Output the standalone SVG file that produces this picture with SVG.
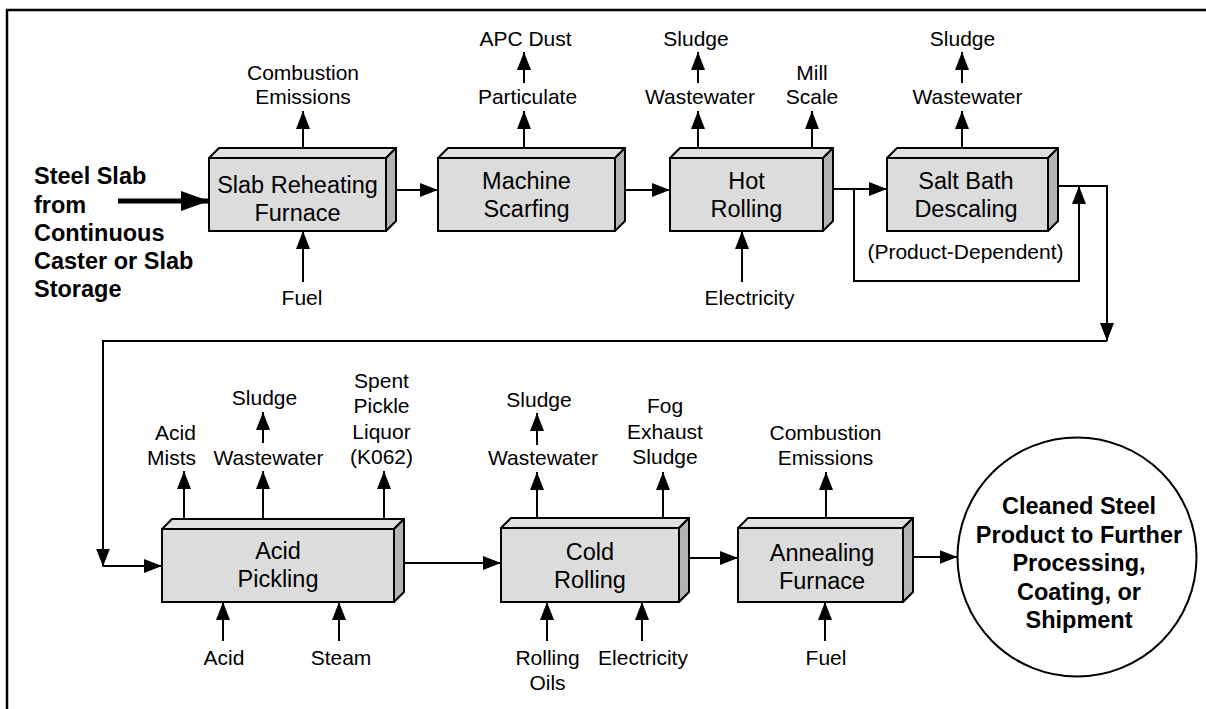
<svg xmlns="http://www.w3.org/2000/svg" width="1206" height="709" viewBox="0 0 1206 709">
<defs>
<marker id="ah" markerUnits="userSpaceOnUse" markerWidth="18" markerHeight="14" refX="18" refY="7" orient="auto">
<path d="M0,0 L18,7 L0,14 z" fill="#000"/>
</marker>
<marker id="bigah" markerUnits="userSpaceOnUse" markerWidth="28" markerHeight="20" refX="28" refY="10" orient="auto">
<path d="M0,0 L28,10 L0,20 z" fill="#000"/>
</marker>
<style>
.front{fill:#dcdcdc;stroke:#000;stroke-width:2}
.top{fill:#e0e0e0;stroke:#000;stroke-width:2;stroke-linejoin:round}
.side{fill:#b3b3b3;stroke:#000;stroke-width:2;stroke-linejoin:round}
.box{font-family:"Liberation Sans",Arial,sans-serif;font-size:23.5px;text-anchor:middle;fill:#000}
.lbl{font-family:"Liberation Sans",Arial,sans-serif;font-size:21px;text-anchor:middle;fill:#000}
.bold{font-family:"Liberation Sans",Arial,sans-serif;font-size:23.5px;font-weight:bold;fill:#000}
.c{fill:none;stroke:#000;stroke-width:2;marker-end:url(#ah)}
.l{fill:none;stroke:#000;stroke-width:2}
</style>
</defs>
<rect x="0" y="0" width="1206" height="709" fill="#fff"/>
<path d="M7,709 L7,10 L1206,10" fill="none" stroke="#000" stroke-width="2.5"/>

<g id="input">
<text class="bold" x="34" y="184.3">Steel Slab</text>
<text class="bold" x="34" y="212.5">from</text>
<text class="bold" x="34" y="240.7">Continuous</text>
<text class="bold" x="34" y="268.9">Caster or Slab</text>
<text class="bold" x="34" y="297.1">Storage</text>
</g>

<g id="slab-reheating">
<polygon class="top" points="209,158 219,148 396,148 386,158"/>
<polygon class="side" points="386,158 396,148 396,221 386,231"/>
<rect class="front" x="209" y="158" width="177" height="73"/>
<text class="box" x="297.5" y="192.5">Slab Reheating</text>
<text class="box" x="297.5" y="220.5">Furnace</text>
<text class="lbl" x="303" y="80">Combustion</text>
<text class="lbl" x="303" y="104">Emissions</text>
<text class="lbl" x="302" y="305">Fuel</text>
</g>

<g id="machine-scarfing">
<polygon class="top" points="438,158 448,148 625,148 615,158"/>
<polygon class="side" points="615,158 625,148 625,221 615,231"/>
<rect class="front" x="438" y="158" width="177" height="73"/>
<text class="box" x="526.5" y="188.5">Machine</text>
<text class="box" x="526.5" y="216.5">Scarfing</text>
<text class="lbl" x="525.5" y="45.5">APC Dust</text>
<text class="lbl" x="527.5" y="104">Particulate</text>
</g>

<g id="hot-rolling">
<polygon class="top" points="670,158 680,148 833,148 823,158"/>
<polygon class="side" points="823,158 833,148 833,221 823,231"/>
<rect class="front" x="670" y="158" width="153" height="73"/>
<text class="box" x="746.5" y="188.5">Hot</text>
<text class="box" x="746.5" y="216.5">Rolling</text>
<text class="lbl" x="696" y="45.5">Sludge</text>
<text class="lbl" x="700" y="104">Wastewater</text>
<text class="lbl" x="812" y="80">Mill</text>
<text class="lbl" x="812" y="104">Scale</text>
<text class="lbl" x="749.5" y="305">Electricity</text>
</g>

<g id="salt-bath-descaling">
<polygon class="top" points="887,158 897,148 1058,148 1048,158"/>
<polygon class="side" points="1048,158 1058,148 1058,221 1048,231"/>
<rect class="front" x="887" y="158" width="161" height="73"/>
<text class="box" x="966" y="188.5">Salt Bath</text>
<text class="box" x="966" y="216.5">Descaling</text>
<text class="lbl" x="962.5" y="45.5">Sludge</text>
<text class="lbl" x="967.5" y="104">Wastewater</text>
<text class="lbl" x="965.5" y="258.5">(Product-Dependent)</text>
</g>

<g id="acid-pickling">
<polygon class="top" points="162,529 172,519 404,519 394,529"/>
<polygon class="side" points="394,529 404,519 404,592 394,602"/>
<rect class="front" x="162" y="529" width="232" height="73"/>
<text class="box" x="278" y="558.5">Acid</text>
<text class="box" x="278" y="586.5">Pickling</text>
<text class="lbl" x="175.5" y="439.5">Acid</text>
<text class="lbl" x="171.5" y="465">Mists</text>
<text class="lbl" x="264.5" y="405">Sludge</text>
<text class="lbl" x="268.5" y="465">Wastewater</text>
<text class="lbl" x="381.5" y="387.5">Spent</text>
<text class="lbl" x="381.5" y="413">Pickle</text>
<text class="lbl" x="381.5" y="438.5">Liquor</text>
<text class="lbl" x="381.5" y="464">(K062)</text>
<text class="lbl" x="224" y="665">Acid</text>
<text class="lbl" x="341" y="665">Steam</text>
</g>

<g id="cold-rolling">
<polygon class="top" points="501,528 511,518 689,518 679,528"/>
<polygon class="side" points="679,528 689,518 689,592 679,602"/>
<rect class="front" x="501" y="528" width="178" height="74"/>
<text class="box" x="590" y="559.5">Cold</text>
<text class="box" x="590" y="588">Rolling</text>
<text class="lbl" x="539" y="406.5">Sludge</text>
<text class="lbl" x="543" y="465">Wastewater</text>
<text class="lbl" x="665" y="413">Fog</text>
<text class="lbl" x="665" y="438.5">Exhaust</text>
<text class="lbl" x="665" y="464">Sludge</text>
<text class="lbl" x="547.5" y="665">Rolling</text>
<text class="lbl" x="547.5" y="690">Oils</text>
<text class="lbl" x="643" y="665">Electricity</text>
</g>

<g id="annealing-furnace">
<polygon class="top" points="738,528 748,518 913,518 903,528"/>
<polygon class="side" points="903,528 913,518 913,592 903,602"/>
<rect class="front" x="738" y="528" width="165" height="74"/>
<text class="box" x="822" y="560.5">Annealing</text>
<text class="box" x="822" y="588.5">Furnace</text>
<text class="lbl" x="825.5" y="440">Combustion</text>
<text class="lbl" x="825.5" y="465">Emissions</text>
<text class="lbl" x="826" y="665">Fuel</text>
</g>

<g id="cleaned-steel-product">
<circle cx="1077" cy="557" r="119.5" fill="#fff" stroke="#000" stroke-width="2"/>
<text class="bold" x="1079" y="514" text-anchor="middle">Cleaned Steel</text>
<text class="bold" x="1079" y="542.5" text-anchor="middle">Product to Further</text>
<text class="bold" x="1079" y="571" text-anchor="middle">Processing,</text>
<text class="bold" x="1079" y="599.5" text-anchor="middle">Coating, or</text>
<text class="bold" x="1079" y="628" text-anchor="middle">Shipment</text>
</g>

<g id="connectors">
<line x1="118" y1="201" x2="209" y2="201" stroke="#000" stroke-width="5" marker-end="url(#bigah)"/>
<!-- top row main flow -->
<path class="c" d="M396,190 L438,190"/>
<path class="c" d="M625,190 L670,190"/>
<path class="c" d="M833,189 L887,189"/>
<!-- bypass around salt bath -->
<path class="c" d="M854,189 L854,281 L1079,281 L1079,186"/>
<path class="c" d="M1058,186 L1107,186 L1107,341"/>
<path class="c" d="M1107,341 L103,341 L103,566.5"/>
<path class="c" d="M103,566 L162,566"/>
<!-- bottom row main flow -->
<path class="c" d="M404,563 L501,563"/>
<path class="c" d="M689,558 L738,558"/>
<path class="c" d="M913,557 L957.5,557"/>
<!-- top row outputs -->
<path class="c" d="M303,148 L303,111"/>
<path class="c" d="M524,83 L524,52"/>
<path class="c" d="M524,148 L524,111"/>
<path class="c" d="M698,83 L698,52"/>
<path class="c" d="M698,148 L698,111"/>
<path class="c" d="M812,148 L812,111"/>
<path class="c" d="M962,83 L962,52"/>
<path class="c" d="M962,148 L962,111"/>
<!-- top row inputs -->
<path class="c" d="M303,282 L303,231"/>
<path class="c" d="M742,282 L742,231"/>
<!-- bottom row outputs -->
<path class="c" d="M184,519 L184,471"/>
<path class="c" d="M263,443 L263,412"/>
<path class="c" d="M263,519 L263,471"/>
<path class="c" d="M384,519 L384,471"/>
<path class="c" d="M537,445 L537,413"/>
<path class="c" d="M537,518 L537,472"/>
<path class="c" d="M663,518 L663,472"/>
<path class="c" d="M826,518 L826,472"/>
<!-- bottom row inputs -->
<path class="c" d="M223,641 L223,602"/>
<path class="c" d="M339,641 L339,602"/>
<path class="c" d="M547,641 L547,602"/>
<path class="c" d="M642,641 L642,602"/>
<path class="c" d="M825,641 L825,602"/>
</g>
</svg>
